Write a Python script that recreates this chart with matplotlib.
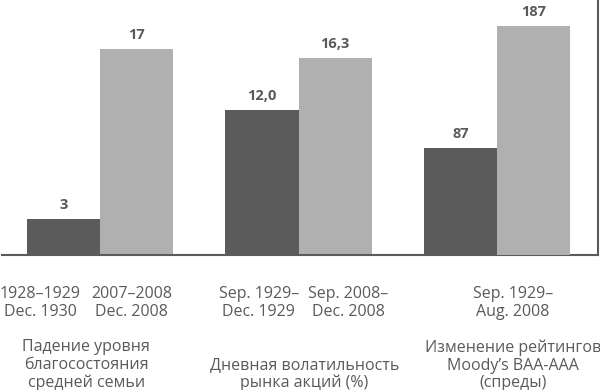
import matplotlib
matplotlib.use("Agg")
import matplotlib.pyplot as plt

plt.rcParams['font.family'] = ['Open Sans', 'DejaVu Sans']

# data
categories = ['Падение уровня\nблагосостояния\nсредней семьи',
              'Дневная волатильность\nрынка акций (%)',
              'Изменение рейтингов\nMoody’s BAA-AAA\n(спреды)']
early = [3, 12.0, 87]
late = [17, 16.3, 187]
early_txt = ['3', '12,0', '87']
late_txt = ['17', '16,3', '187']
periods = ['1928–1929\nDec. 1930', '2007–2008\nDec. 2008',
           'Sep. 1929–\nDec. 1929', 'Sep. 2008–\nDec. 2008',
           'Sep. 1929–\nAug. 2008']

dark = '#5b5b5b'
light = '#b0b0b0'
txt = '#5a5a5a'
w = 0.368

fig = plt.figure(figsize=(6, 3.9), dpi=100)
ax = fig.add_axes([2/600, 135/390, 596/600, 255/390])
ax2 = ax.twinx()

# groups 1-2 on one scale, group 3 on its own
for i in range(3):
    a = ax if i < 2 else ax2
    b1 = a.bar(i - w/2, early[i], w, color=dark)
    b2 = a.bar(i + w/2, late[i], w, color=light)
    a.bar_label(b1, [early_txt[i]], padding=5, fontsize=10.5,
                fontweight='bold', color=txt)
    a.bar_label(b2, [late_txt[i]], padding=5, fontsize=10.5,
                fontweight='bold', color=txt)

ax.set_xlim(-0.494, 2.509)
ax.set_ylim(0, 21.07)
ax2.set_ylim(0, 208.2)

for a in (ax, ax2):
    a.set_xticks([])
    a.set_yticks([])
    for s in a.spines.values():
        s.set_visible(False)
ax.spines['bottom'].set_visible(True)
ax.spines['right'].set_visible(True)
ax.spines['bottom'].set_color(dark)
ax.spines['right'].set_color(dark)
ax.spines['bottom'].set_linewidth(1.5)
ax.spines['right'].set_linewidth(1.5)

tr = ax.get_xaxis_transform()
period_x = [-0.30, 0.16, 0.80, 1.25, 2.08]
for x, p in zip(period_x, periods):
    ax.text(x, -0.188, p, transform=tr, ha='center', va='center',
            fontsize=11.5, color=txt, linespacing=1.15)

cat_x = [-0.07, 1.03, 2.08]
for x, c in zip(cat_x, categories):
    ax.text(x, -0.535, c, transform=tr, ha='center', va='bottom',
            fontsize=11.5, color=txt, linespacing=1.15, clip_on=False)

fig.savefig('out.png', dpi=100)
